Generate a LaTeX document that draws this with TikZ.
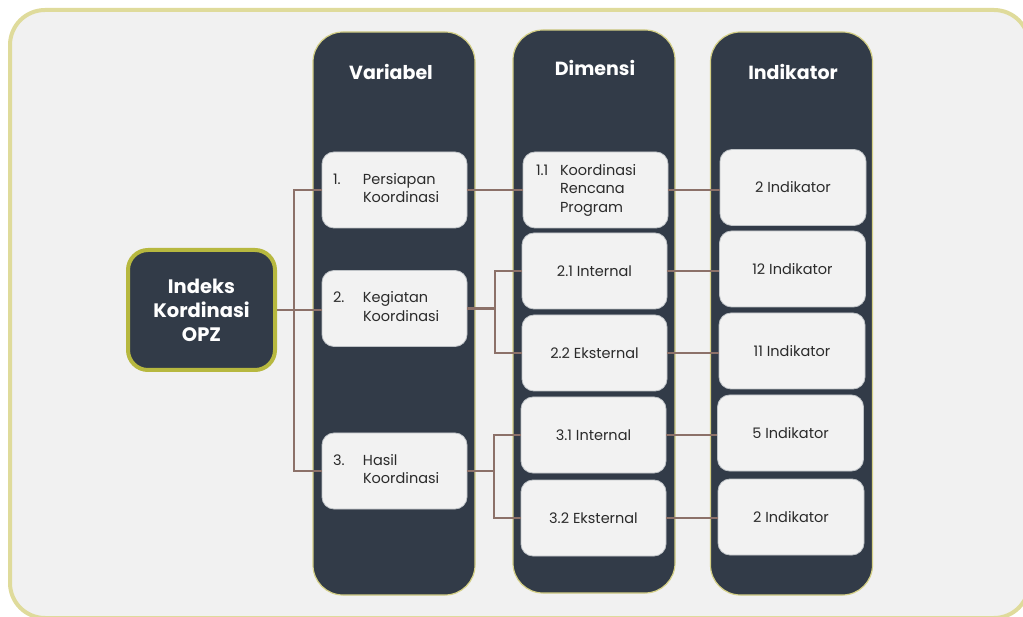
\documentclass[tikz,border=0pt]{standalone}
\usepackage{fontspec}
\setmainfont{Poppins}
\usepackage{array}
\definecolor{bgfill}{HTML}{F1F1F1}
\definecolor{outerline}{HTML}{DFDB9B}
\definecolor{colfill}{HTML}{323B48}
\definecolor{colline}{HTML}{D4CF86}
\definecolor{mainline}{HTML}{B7B83F}
\definecolor{connc}{HTML}{8C7169}
\definecolor{boxfill}{HTML}{F2F2F2}
\definecolor{boxline}{HTML}{BFC3C7}
\definecolor{txt}{HTML}{2B2B2B}
\tikzset{
  column/.style={draw=colline, line width=1.2pt, fill=colfill, rounded corners=30pt,
    minimum width=162pt, minimum height=563pt, inner sep=0pt},
  header/.style={text=white, font=\fontsize{19}{22}\selectfont\bfseries, inner sep=0pt},
  itembox/.style={draw=boxline, line width=0.8pt, fill=boxfill, rounded corners=12pt,
    minimum width=145pt, minimum height=76pt, text=txt,
    font=\fontsize{14.5}{18.5}\selectfont, inner sep=0pt},
  mainbox/.style={draw=mainline, line width=4pt, fill=colfill, rounded corners=20pt,
    minimum width=147pt, minimum height=120pt, text=white, align=center,
    font=\fontsize{19.5}{24}\selectfont\bfseries},
  conn/.style={draw=connc, line width=2.7pt}
}
\begin{document}
\begin{tikzpicture}[x=1pt,y=-1pt]
\useasboundingbox (0,0) rectangle (1023,617);
\draw[fill=bgfill, draw=outerline, line width=4pt, rounded corners=35pt] (10,10) rectangle (1029,618);

% columns
\node[column] (colvar) at (394,313.5) {};
\node[column] (coldim) at (594,311.5) {};
\node[column] (colind) at (791.5,313.5) {};
\node[header] (hvar) at (391,72) {Variabel};
\node[header] (hdim) at (595,68) {Dimensi};
\node[header] (hind) at (793,72) {Indikator};

% main node
\node[mainbox] (main) at (201.5,310) {Indeks\\Kordinasi\\OPZ};

% variable boxes
\node[itembox, text width=123pt, align=left] (var1) at (394.5,190)
  {\begin{tabular}{@{}p{30pt}@{}l@{}}1. & Persiapan\\ & Koordinasi\end{tabular}};
\node[itembox, text width=123pt, align=left] (var2) at (394.5,308.5)
  {\begin{tabular}{@{}p{30pt}@{}l@{}}2. & Kegiatan\\ & Koordinasi\end{tabular}};
\node[itembox, text width=123pt, align=left] (var3) at (394.5,471)
  {\begin{tabular}{@{}p{30pt}@{}l@{}}3. & Hasil\\ & Koordinasi\end{tabular}};

% dimension boxes
\node[itembox, text width=119pt, align=left] (dim11) at (595.5,190)
  {\begin{tabular}{@{}p{24pt}@{}l@{}}1.1 & Koordinasi\\ & Rencana\\ & Program\end{tabular}};
\node[itembox] (dim21) at (594.5,271) {2.1 Internal};
\node[itembox] (dim22) at (594.5,353) {2.2 Eksternal};
\node[itembox] (dim31) at (593.5,435) {3.1 Internal};
\node[itembox] (dim32) at (593.5,518) {3.2 Eksternal};

% indicator boxes
\node[itembox, minimum width=146pt] (ind1) at (793,187.5) {2 Indikator};
\node[itembox, minimum width=146pt] (ind2) at (792.5,269) {12 Indikator};
\node[itembox, minimum width=146pt] (ind3) at (792,351) {11 Indikator};
\node[itembox, minimum width=146pt] (ind4) at (790.5,433) {5 Indikator};
\node[itembox, minimum width=146pt] (ind5) at (791,517) {2 Indikator};

% connectors: main -> variables
\coordinate (b1) at (294,310);
\draw[conn] (main.east) -- (var2.west |- main.east);
\draw[conn] (var1.west) -| (b1) |- (var3.west);

% variables -> dimensions
\draw[conn] (var1.east) -- (dim11.west |- var1.east);
\coordinate (b2) at (495,308.5);
\draw[conn] (var2.east) -- (b2);
\draw[conn] (dim21.west) -| (b2) |- (dim22.west);
\coordinate (b3) at (494,471);
\draw[conn] (var3.east) -- (b3);
\draw[conn] (dim31.west) -| (b3) |- (dim32.west);

% dimensions -> indicators
\draw[conn] (dim11.east) -- (ind1.west |- dim11.east);
\draw[conn] (dim21.east) -- (ind2.west |- dim21.east);
\draw[conn] (dim22.east) -- (ind3.west |- dim22.east);
\draw[conn] (dim31.east) -- (ind4.west |- dim31.east);
\draw[conn] (dim32.east) -- (ind5.west |- dim32.east);
\end{tikzpicture}
\end{document}
